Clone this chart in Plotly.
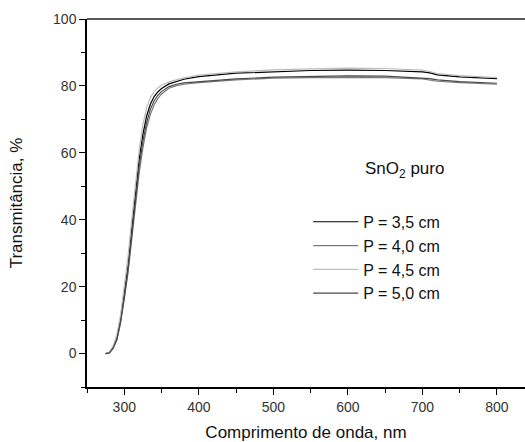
import plotly.graph_objects as go

wavelength = [275, 280, 285, 290, 295, 300, 305, 310, 315, 320, 325, 330, 335, 340, 345, 350,
              360, 370, 380, 390, 400, 450, 500, 550, 600, 650, 700, 710, 720, 750, 800]

t_35 = [0, 0.3, 1.8, 4.5, 10, 17.5, 26, 37, 47, 58, 65.5, 71, 74.5, 76.8, 78.2, 79.2,
        80.6, 81.4, 82.0, 82.4, 82.8, 83.8, 84.3, 84.6, 84.7, 84.6, 84.2, 83.9, 83.3, 82.7, 82.2]
t_40 = [0, 0.2, 1.5, 4.0, 9, 16, 24, 34, 44, 54, 61.5, 67.5, 71.5, 74.3, 76.2, 77.6,
        79.3, 80.1, 80.5, 80.8, 81.0, 81.8, 82.3, 82.5, 82.6, 82.5, 82.1, 81.8, 81.4, 81.0, 80.5]
t_45 = [0, 0.4, 2.2, 5.5, 11.5, 19.5, 29, 40, 50.5, 61, 68.5, 73.5, 76.5, 78.3, 79.4, 80.2,
        81.2, 81.9, 82.4, 82.8, 83.2, 84.2, 84.8, 85.1, 85.3, 85.2, 84.7, 84.3, 83.7, 83.1, 82.5]
t_50 = [0, 0.2, 1.6, 4.2, 9.5, 16.5, 25, 35.5, 45.5, 56, 63.5, 69, 73, 75.5, 77.2, 78.3,
        79.8, 80.5, 80.9, 81.1, 81.3, 82.1, 82.6, 82.9, 83.0, 82.9, 82.5, 82.2, 81.8, 81.3, 80.8]

series = [("P = 3,5 cm", t_35, "#000000"),
          ("P = 4,0 cm", t_40, "#7a7a7a"),
          ("P = 4,5 cm", t_45, "#bdbdbd"),
          ("P = 5,0 cm", t_50, "#4a4a4a")]

fig = go.Figure()
for name, vals, col in series:
    fig.add_trace(go.Scatter(x=wavelength, y=vals, mode="lines", name=name,
                             line=dict(color=col, width=1.2)))

font = "Arial, Liberation Sans, sans-serif"
fig.update_layout(
    width=525, height=442,
    margin=dict(l=87, r=0, t=19, b=55),
    paper_bgcolor="white", plot_bgcolor="white",
    font=dict(family=font, color="#222", size=14),
    showlegend=True,
    legend=dict(x=0.505, y=0.495, xanchor="left", yanchor="top",
                font=dict(size=16, color="#111"), bgcolor="rgba(0,0,0,0)",
                tracegroupgap=0, itemwidth=45),
    xaxis=dict(range=[250, 837.6], showgrid=False, zeroline=False,
               showline=True, linecolor="black", linewidth=1.5,
               ticks="outside", ticklen=6, tickwidth=1.2, tickcolor="black",
               tick0=300, dtick=100,
               minor=dict(dtick=50, tick0=250, ticklen=4, ticks="outside", tickcolor="black"),
               tickfont=dict(size=14, color="#333"),
               title=dict(text="Comprimento de onda, nm", font=dict(size=17, color="#111"), standoff=16)),
    yaxis=dict(range=[-10, 100], showgrid=False, zeroline=False,
               showline=True, linecolor="black", linewidth=1.5,
               ticks="outside", ticklen=6, tickwidth=1.2, tickcolor="black",
               tick0=0, dtick=20,
               minor=dict(dtick=10, tick0=0, ticklen=4, ticks="outside", tickcolor="black"),
               tickfont=dict(size=14, color="#333"),
               title=dict(text="Transmitância, %", font=dict(size=17, color="#111"), standoff=26)),
    annotations=[dict(x=0.63, y=0.59, xref="paper", yref="paper", xanchor="left", yanchor="middle",
                      text="SnO<sub>2</sub> puro", showarrow=False, font=dict(size=17, color="#111"))],
    shapes=[dict(type="line", xref="paper", yref="paper", x0=0, x1=1, y0=1, y1=1,
                 line=dict(color="#222", width=1.5))],
)

fig.write_html("out.html")
